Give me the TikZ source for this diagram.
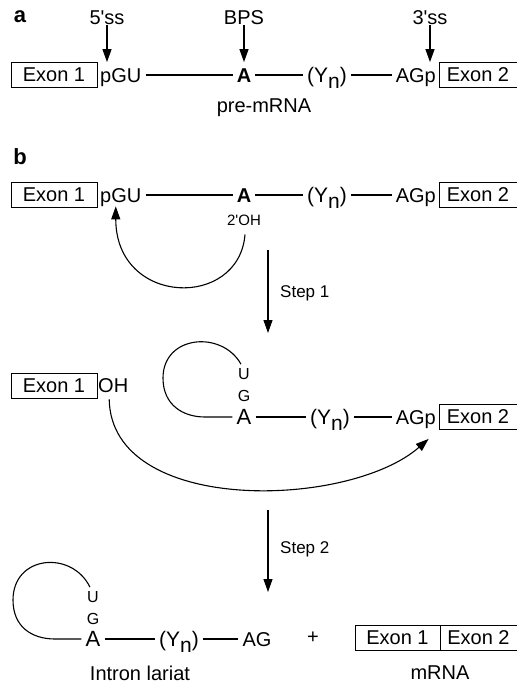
\documentclass[tikz,border=0pt]{standalone}
\usepackage{fontspec}
\setmainfont{Liberation Sans}
\usepackage{tikz}
\usetikzlibrary{arrows.meta,calc,positioning}

\begin{document}
\begin{tikzpicture}[x=1pt,y=-1pt]
	\tikzstyle{every node} = [inner sep = 0pt, font = \fontsize{20}{23}\selectfont]
	\tikzstyle{exon} = [draw = black, line width = 0.8pt, minimum width = 86pt, minimum height = 25pt]
	\tikzstyle{seq} = [inner xsep = 4pt, text height = 14.3pt, text depth = 0pt]
	\tikzstyle{poly} = [seq, font = \fontsize{21}{24}\selectfont]
	\tikzstyle{big} = [font = \fontsize{22}{25}\selectfont]
	\tikzstyle{small} = [font = \fontsize{16}{18}\selectfont]
	\tikzstyle{panel} = [font = \fontsize{22}{24}\selectfont\bfseries]
	\tikzstyle{line} = [line width = 1.1pt]
	\tikzstyle{arr} = [line width = 1.1pt, -{Triangle[length = 13pt, width = 9pt]}]
	\useasboundingbox (0,0) rectangle (517,686);

% a
\node[panel] (pa) at (20,17) {a};
\node (ss5) at (107,18) {5\textquotesingle ss};
\node (bps) at (244,18) {BPS};
\node (ss3) at (430,18) {3\textquotesingle ss};
\node[exon] (ex1a) at (54,75) {Exon 1};
\node[seq, anchor = west] (pgua) at (96,75) {pGU};
\node[seq, font = \fontsize{20}{23}\selectfont\bfseries] (bpa) at (244,75) {A};
\node[poly] (yna) at (327,75) {(Y\raisebox{-0.3em}{n})};
\node[seq, anchor = east] (aga) at (440,75) {AGp};
\node[exon, minimum width = 78pt] (ex2a) at (478,75) {Exon 2};
\node (prea) at (264,108) {pre-mRNA};

	\path[draw, line] (pgua) -- (bpa);
	\path[draw, line] (bpa) -- (yna);
	\path[draw, line] (yna) -- (aga);
	\path[draw, arr] (ss5) -- (ss5 |- ex1a.north);
	\path[draw, arr] (bps) -- (bps |- ex1a.north);
	\path[draw, arr] (ss3) -- (ss3 |- ex1a.north);

% b, before step 1
\node[panel] (pb) at (20,157) {b};
\node[exon] (ex1b) at (54,195) {Exon 1};
\node[seq, anchor = west] (pgub) at (96,195) {pGU};
\node[seq, font = \fontsize{20}{23}\selectfont\bfseries] (bpb) at (244,195) {A};
\node[poly] (ynb) at (327,195) {(Y\raisebox{-0.3em}{n})};
\node[seq, anchor = east] (agb) at (440,195) {AGp};
\node[exon, minimum width = 78pt] (ex2b) at (478,195) {Exon 2};
\node[font = \fontsize{15}{17}\selectfont] (ohb) at (244,220) {2\textquotesingle OH};

	\path[draw, line] (pgub) -- (bpb);
	\path[draw, line] (bpb) -- (ynb);
	\path[draw, line] (ynb) -- (agb);
	\path[draw, arr] ($(ohb.south)+(1,9)$) .. controls +(-6,75) and +(0,100) .. ($(pgub.south)+(-5,4)$);

\coordinate (s1t) at (268,250);
\coordinate (s1b) at (268,333);
	\path[draw, arr] (s1t) -- (s1b);
\node[anchor = west, font = \fontsize{17}{20}\selectfont] (st1) at (280,293) {Step 1};

% after step 1
\node[exon] (ex1c) at (54,386) {Exon 1};
\node[anchor = west] (ohc) at (98,386) {OH};
\node[small] (uc) at (244,374) {U};
\node[small] (gc) at (244,396) {G};
\node[seq, big] (ac) at (244,417) {A};
\node[poly] (ync) at (330,417) {(Y\raisebox{-0.3em}{n})};
\node[seq, anchor = east] (agc) at (440,417) {AGp};
\node[exon, minimum width = 78pt] (ex2c) at (478,417) {Exon 2};

	\path[draw, line] ($(uc.north)+(-3,-4)$) .. controls (222,330) and (163,335) .. (163,378)
		.. controls (163,405) and (183,417) .. (205,417) -- (ac);
	\path[draw, line] (ac) -- (ync);
	\path[draw, line] (ync) -- (agc);
	\path[draw, arr] ($(ohc.south)+(-4,6)$) .. controls +(2,116) and +(-80,70) .. ($(ex2c.south west)+(-10,9)$);

\coordinate (s2t) at (268,510);
\coordinate (s2b) at (268,592);
	\path[draw, arr] (s2t) -- (s2b);
\node[anchor = west, font = \fontsize{17}{20}\selectfont] (st2) at (280,549) {Step 2};

% after step 2
\node[small] (ud) at (93,597) {U};
\node[small] (gd) at (93,619) {G};
\node[seq, big] (ad) at (93,639) {A};
\node[poly] (ynd) at (179,639) {(Y\raisebox{-0.3em}{n})};
\node[seq] (agd) at (257,639) {AG};
\node (plus) at (313,638) {+};
\node[exon, minimum width = 85pt] (ex1d) at (397.5,638) {Exon 1};
\node[exon, minimum width = 77pt] (ex2d) at (478.5,638) {Exon 2};
\node (lar) at (140,673) {Intron lariat};
\node (mrna) at (440,673) {mRNA};

	\path[draw, line] ($(ud.north)+(-3,-4)$) .. controls (72,550) and (13,555) .. (13,600)
		.. controls (13,627) and (32,639) .. (55,639) -- (ad);
	\path[draw, line] (ad) -- (ynd);
	\path[draw, line] (ynd) -- (agd);
\end{tikzpicture}
\end{document}
